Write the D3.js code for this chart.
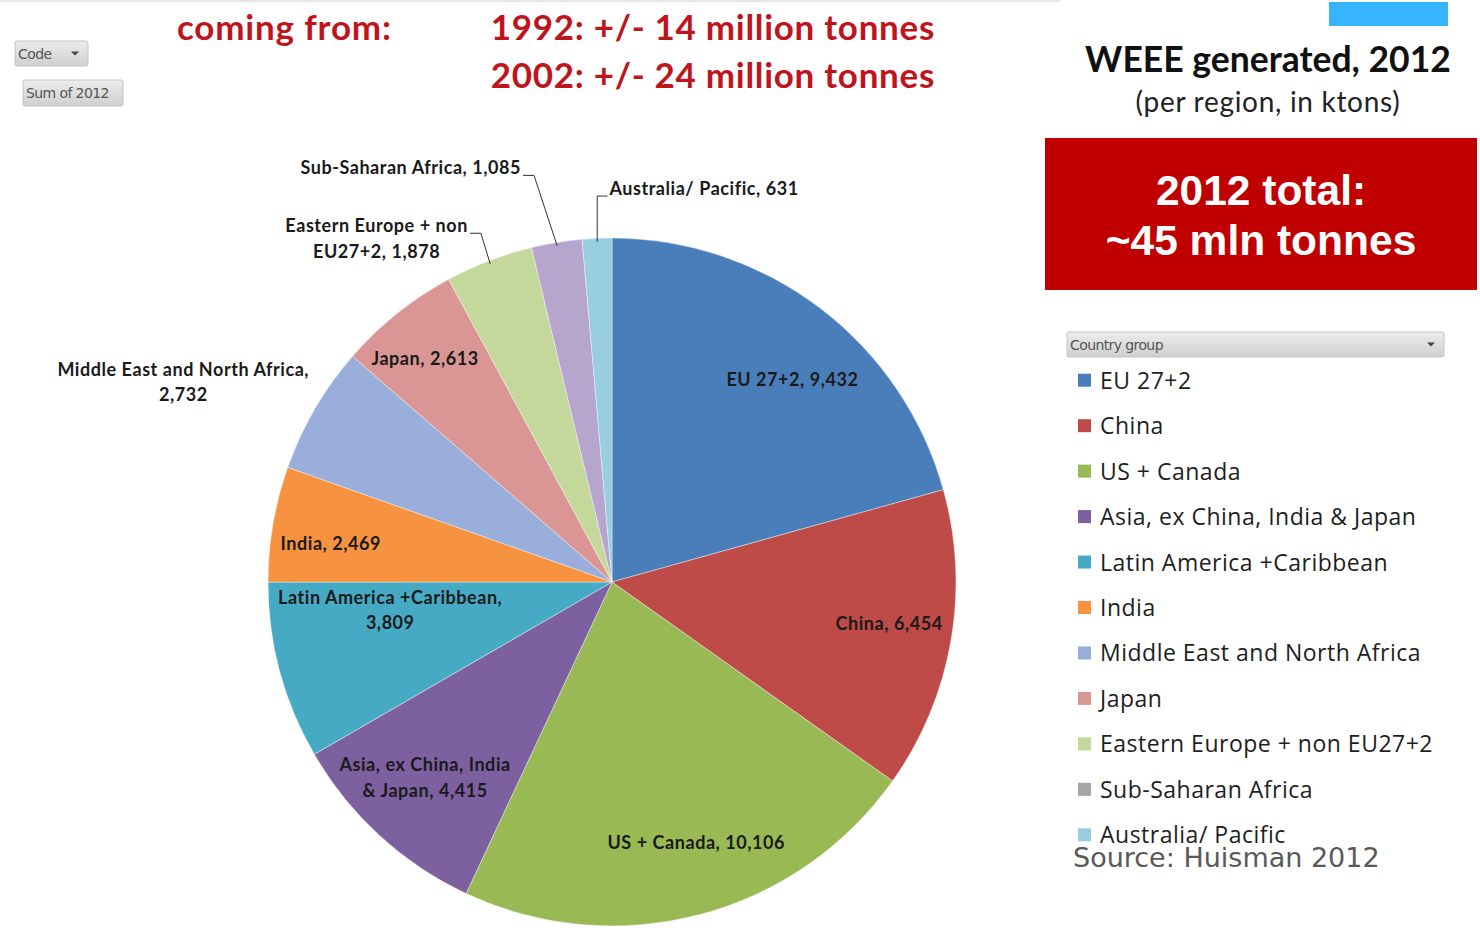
<!DOCTYPE html>
<html><head><meta charset="utf-8">
<script src="https://cdn.jsdelivr.net/npm/d3@7"></script>
<style>body{margin:0;background:#fff;} svg{display:block}</style>
</head><body>
<svg id="c" width="1480" height="930"></svg>
<script>
// ---------- DATA ----------
const categories = ["EU 27+2","China","US + Canada","Asia, ex China, India & Japan","Latin America +Caribbean","India","Middle East and North Africa","Japan","Eastern Europe + non EU27+2","Sub-Saharan Africa","Australia/ Pacific"];
const values2012 = [9432,6454,10106,4415,3809,2469,2732,2613,1878,1085,631];
const labelTemplates = ["EU 27+2, {v}","China, {v}","US + Canada, {v}","Asia, ex China, India|& Japan, {v}","Latin America +Caribbean,|{v}","India, {v}","Middle East and North Africa,|{v}","Japan, {v}","Eastern Europe + non|EU27+2, {v}","Sub-Saharan Africa, {v}","Australia/ Pacific, {v}"];
const sliceColors = ["#4a7ebb","#be4b48","#98b954","#7d60a0","#46aac5","#f69240","#9aaedc","#d99694","#c5d89c","#b6a5cd","#99cde0"];
const legendColors = ["#4a7ebb","#be4b48","#98b954","#7d60a0","#46aac5","#f69240","#9aaedc","#d99694","#c5d89c","#a5a5a5","#99cde0"];
const headlineYears = ["1992: +/- 14 million tonnes","2002: +/- 24 million tonnes"];
const totalLines = ["2012 total:","~45 mln tonnes"];

// ---------- LAYOUT ----------
const svg = d3.select("#c");
const cx = 612, cy = 582, R = 344;
const labelNudge = [[14,16],[6,-6],[14,-6],[-1,-8],[44,-44],[-10,7],[-191,-62],[-15,-9],[-137,-87],[-157,-143],[104,-119]];
const leader = [null,null,null,null,null,null,null,null,"right","right","left"];
const fmt = d3.format(",");

const data = categories.map((c,i)=>({name:c, value:values2012[i], i}));
const pie = d3.pie().sort(null).value(d=>d.value).startAngle(0).endAngle(2*Math.PI);
const arcs = pie(data);
const arc = d3.arc().innerRadius(0).outerRadius(R);
const labelArc = d3.arc().innerRadius(R*0.8).outerRadius(R*0.8);
const edgeArc = d3.arc().innerRadius(R*0.99).outerRadius(R*0.99);

// top faint strip
svg.append("rect").attr("x",0).attr("y",0).attr("width",1060).attr("height",2).attr("fill","#e6e6e6");

const g = svg.append("g").attr("transform",`translate(${cx},${cy})`);
g.selectAll("path.slice").data(arcs).enter().append("path")
  .attr("class","slice").attr("d",arc).attr("fill",d=>sliceColors[d.data.i])
  .attr("stroke","#ffffff").attr("stroke-width",0.4);

const labelFont = "Lato, 'Open Sans', sans-serif";
arcs.forEach(d=>{
  const i = d.data.i;
  const [lx,ly] = labelArc.centroid(d);
  const x = lx + labelNudge[i][0], y = ly + labelNudge[i][1];
  const lines = labelTemplates[i].replace("{v}", fmt(d.data.value)).split("|");
  const lh = 25.5;
  const t = g.append("text").attr("text-anchor","middle")
    .attr("font-family",labelFont).attr("font-weight","bold").attr("font-size",18)
    .attr("letter-spacing",0.55).attr("fill","#1a1a1a");
  lines.forEach((ln,k)=>{
    t.append("tspan").attr("x",x).attr("y", y + (k-(lines.length-1)/2)*lh)
      .attr("dominant-baseline","central").text(ln);
  });
  if (leader[i]) {
    const first = t.select("tspan").node();
    const w = first.getComputedTextLength();
    const ty = y - (lines.length-1)/2*lh + 8;
    const [ex,ey] = edgeArc.centroid(d);
    let p;
    if (leader[i]==="right") {
      const sx = x + w/2 + 2;
      p = [[sx,ty],[sx+11,ty],[ex,ey]];
    } else {
      const sx = x - w/2 - 2;
      p = [[sx,ty],[ex,ty],[ex,ey]];
    }
    g.append("path").attr("d", d3.line()(p)).attr("fill","none")
      .attr("stroke","#333").attr("stroke-width",1);
  }
});

// ---------- HEADLINES ----------
const hFont = "Lato, 'Open Sans', sans-serif";
svg.append("text").attr("x",177).attr("y",40).attr("font-family",hFont).attr("font-weight","bold")
  .attr("font-size",35).attr("letter-spacing",0.8).attr("fill","#c0141c").text("coming from:");
headlineYears.forEach((s,k)=>{
  svg.append("text").attr("x",935).attr("y",40+k*48).attr("text-anchor","end")
    .attr("font-family",hFont).attr("font-weight","bold").attr("font-size",35).attr("letter-spacing",0.7)
    .attr("fill","#c0141c").text(s);
});

// ---------- PIVOT BUTTONS ----------
const defs = svg.append("defs");
const grad = defs.append("linearGradient").attr("id","btn").attr("x1",0).attr("y1",0).attr("x2",0).attr("y2",1);
grad.append("stop").attr("offset","0%").attr("stop-color","#ececec");
grad.append("stop").attr("offset","100%").attr("stop-color","#cfcfcf");
function button(x,y,w,h,label,arrow,fs){
  svg.append("rect").attr("x",x).attr("y",y).attr("width",w).attr("height",h)
    .attr("rx",2).attr("fill","url(#btn)").attr("stroke","#c4c4c4");
  svg.append("text").attr("x",x+3).attr("y",y+h/2).attr("dominant-baseline","central")
    .attr("font-family","'DejaVu Sans', sans-serif").attr("font-size",fs).attr("fill","#555")
    .attr("letter-spacing",-0.6).text(label);
  if (arrow) {
    const ax = x+w-13, ay = y+h/2;
    svg.append("path").attr("d",`M${ax-4},${ay-2}L${ax+4},${ay-2}L${ax},${ay+2}Z`).attr("fill","#444");
  }
}
button(15,41,73,25,"Code",true,14);
button(23,80,100,26,"Sum of 2012",false,14);
button(1067,332,377,25,"Country group",true,14);

// ---------- RIGHT PANEL ----------
svg.append("rect").attr("x",1329).attr("y",2).attr("width",119).attr("height",24).attr("fill","#36b4fd");
svg.append("text").attr("x",1268).attr("y",72).attr("text-anchor","middle")
  .attr("font-family",hFont).attr("font-weight","bold").attr("font-size",35.5).attr("fill","#111")
  .text("WEEE generated, 2012");
svg.append("text").attr("x",1268).attr("y",112).attr("text-anchor","middle")
  .attr("font-family",hFont).attr("font-size",28).attr("letter-spacing",0.7).attr("fill","#222")
  .text("(per region, in ktons)");
svg.append("rect").attr("x",1045).attr("y",138).attr("width",432).attr("height",152).attr("fill","#c00000");
totalLines.forEach((s,k)=>{
  svg.append("text").attr("x",1261).attr("y",205+k*50).attr("text-anchor","middle")
    .attr("font-family","'Liberation Sans', Arial, sans-serif").attr("font-weight","bold")
    .attr("font-size",42.5).attr("fill","#fff").text(s);
});

// legend
const lyS = d3.scaleBand().domain(categories).range([357,857]).paddingInner(0);
const leg = svg.append("g");
categories.forEach((c,i)=>{
  const yc = lyS(c) + lyS.bandwidth()/2;
  leg.append("rect").attr("x",1078).attr("y",yc-6).attr("width",13).attr("height",13).attr("fill",legendColors[i]);
  leg.append("text").attr("x",1100).attr("y",yc).attr("dominant-baseline","central")
    .attr("font-family","'Open Sans', sans-serif").attr("font-size",23).attr("letter-spacing",0.5).attr("fill","#1e1e1e")
    .text(c);
});
svg.append("text").attr("x",1073).attr("y",867)
  .attr("font-family","'DejaVu Sans', sans-serif").attr("font-size",27).attr("fill","#595959")
  .text("Source: Huisman 2012");
</script>
</body></html>
